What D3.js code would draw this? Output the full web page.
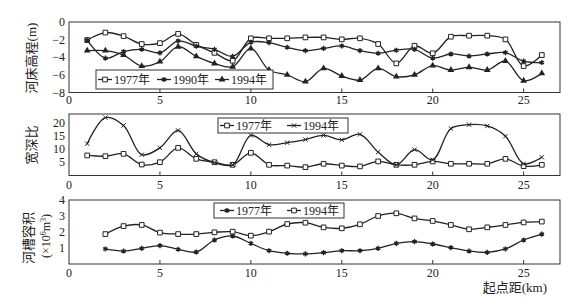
<!DOCTYPE html>
<html>
<head>
<meta charset="utf-8">
<script src="https://cdn.jsdelivr.net/npm/d3@7.9.0/dist/d3.min.js"></script>
<style>
  body { margin: 0; background: #fff; }
  text { font-family: "Liberation Serif", "DejaVu Serif", "Noto Sans CJK SC", serif; fill: #222; }
</style>
</head>
<body>
<svg id="chart" width="571" height="301"></svg>
<script>
// river bed elevation (m)
const x1 = d3.range(1, 27);
const bed1977 = [-2.05, -1.2, -1.6, -2.5, -2.4, -1.35, -2.6, -3.5, -4.4, -1.85, -1.85, -1.85, -1.75, -1.75, -1.97, -1.85, -2.5, -4.7, -2.7, -3.55, -1.67, -1.55, -1.55, -1.97, -5.0, -3.75];
const bed1990 = [-2.05, -4.1, -3.35, -3.1, -3.5, -2.15, -2.75, -3.1, -3.9, -2.3, -2.35, -2.87, -3.25, -3.0, -2.72, -3.25, -3.55, -3.2, -3.1, -4.1, -3.63, -3.86, -3.63, -3.48, -4.43, -4.6];
const bed1994 = [-3.25, -3.25, -3.75, -5.0, -4.5, -2.8, -3.9, -4.7, -5.07, -3.0, -5.45, -6.0, -6.77, -5.26, -6.13, -6.58, -5.26, -6.2, -6.0, -4.95, -5.45, -5.14, -5.45, -4.43, -6.66, -5.83];

// width / depth ratio
const ratio1977 = [7.7, 7.4, 8.3, 4.2, 5.1, 10.6, 6.4, 5.1, 4.1, 8.7, 4.1, 3.8, 3.2, 4.5, 3.8, 3.5, 5.4, 4.1, 4.1, 5.4, 4.5, 4.5, 4.5, 6.4, 3.6, 4.1];
const ratio1994 = [12.2, 22.2, 19.2, 8.0, 10.6, 17.3, 8.3, 4.9, 4.1, 15.4, 11.8, 12.6, 13.8, 15.4, 13.7, 15.8, 9.0, 4.1, 9.9, 6.0, 18.0, 19.5, 19.0, 15.1, 4.5, 7.0];

// channel volume (x10^6 m3), from 2 km on
const x3 = d3.range(2, 27);
const vol1977 = [0.94, 0.81, 0.98, 1.15, 0.92, 0.75, 1.5, 1.75, 1.29, 0.83, 0.67, 0.63, 0.71, 0.83, 0.83, 0.98, 1.29, 1.4, 1.25, 1.02, 0.81, 0.73, 0.94, 1.5, 1.87];
const vol1994 = [1.87, 2.37, 2.44, 1.96, 1.87, 1.87, 1.98, 2.02, 1.77, 2.02, 2.5, 2.58, 2.29, 2.23, 2.48, 3.0, 3.17, 2.85, 2.69, 2.44, 2.17, 2.29, 2.44, 2.6, 2.65];

const xTicks = [0, 5, 10, 15, 20, 25];

const svg = d3.select('#chart');
const x = d3.scaleLinear().domain([0, 27]).range([69, 560]);
const line = (xs, ys, y) => d3.line()
  .x((d, i) => x(xs[i]))
  .y((d) => y(d))
  .curve(d3.curveCatmullRom.alpha(0.5))(ys);

const marks = {
  square: { type: d3.symbolSquare, size: 22, fill: '#fff', stroke: '#222', sw: 1 },
  tri: { type: d3.symbolTriangle, size: 20, fill: '#222', stroke: 'none', sw: 0 },
  star: { type: d3.symbolAsterisk, size: 18, fill: 'none', stroke: '#222', sw: 1.4 },
  times: { type: d3.symbolTimes, size: 14, fill: 'none', stroke: '#222', sw: 1 }
};

function drawMark(g, m, px, py) {
  g.append('path')
    .attr('transform', `translate(${px},${py})`)
    .attr('d', d3.symbol().type(m.type).size(m.size)())
    .attr('fill', m.fill)
    .attr('stroke', m.stroke)
    .attr('stroke-width', m.sw);
}

const panels = [
  {
    top: 22, bottom: 92.5, domain: [-8, 0], ticks: [0, -2, -4, -6, -8],
    fmt: (d) => d === 0 ? '0' : '\u2212' + Math.abs(d),
    xs: x1, xLabelY: 104,
    series: [
      { name: '1977年', ys: bed1977, mark: 'square' },
      { name: '1990年', ys: bed1990, mark: 'star' },
      { name: '1994年', ys: bed1994, mark: 'tri' }
    ],
    legend: { x: 96, y: 70, w: 177, h: 19, items: [98, 157, 215] }
  },
  {
    top: 114, bottom: 175.5, domain: [0, 23.6], ticks: [5, 10, 15, 20],
    fmt: (d) => d, xs: x1, xLabelY: 189,
    series: [
      { name: '1977年', ys: ratio1977, mark: 'square' },
      { name: '1994年', ys: ratio1994, mark: 'times' }
    ],
    legend: { x: 218, y: 118, w: 130, h: 15, items: [220, 287] }
  },
  {
    top: 200, bottom: 264, domain: [0, 4], ticks: [1, 2, 3, 4],
    fmt: (d) => d, xs: x3, xLabelY: 277,
    series: [
      { name: '1977年', ys: vol1977, mark: 'star' },
      { name: '1994年', ys: vol1994, mark: 'square' }
    ],
    legend: { x: 214, y: 203, w: 130, h: 15, items: [220, 287] }
  }
];

panels.forEach((p) => {
  const y = d3.scaleLinear().domain(p.domain).range([p.bottom, p.top]);
  const g = svg.append('g');

  g.append('rect')
    .attr('x', x(0)).attr('y', p.top)
    .attr('width', 560 - x(0)).attr('height', p.bottom - p.top)
    .attr('fill', 'none').attr('stroke', '#333').attr('stroke-width', 1);

  // x ticks point inward
  g.selectAll('.xt').data(xTicks.filter((d) => d > 0)).join('line')
    .attr('x1', (d) => x(d)).attr('x2', (d) => x(d))
    .attr('y1', p.bottom).attr('y2', p.bottom - 4)
    .attr('stroke', '#333');
  g.selectAll('.xl').data(xTicks).join('text')
    .attr('x', (d) => x(d)).attr('y', p.xLabelY)
    .attr('text-anchor', 'middle').attr('font-size', 12)
    .text((d) => d);

  g.selectAll('.yl').data(p.ticks).join('text')
    .attr('x', 65).attr('y', (d) => y(d) + 4)
    .attr('text-anchor', 'end').attr('font-size', 12)
    .text(p.fmt);

  p.series.forEach((s) => {
    g.append('path')
      .attr('d', line(p.xs, s.ys, y))
      .attr('fill', 'none').attr('stroke', '#222').attr('stroke-width', 1.3);
    s.ys.forEach((v, i) => drawMark(g, marks[s.mark], x(p.xs[i]), y(v)));
  });

  const L = p.legend;
  g.append('rect')
    .attr('x', L.x).attr('y', L.y).attr('width', L.w).attr('height', L.h)
    .attr('fill', '#fff').attr('stroke', '#333').attr('stroke-width', 1);
  p.series.forEach((s, i) => {
    const lx = L.items[i], ly = L.y + L.h / 2;
    g.append('line')
      .attr('x1', lx).attr('x2', lx + 14).attr('y1', ly).attr('y2', ly)
      .attr('stroke', '#222').attr('stroke-width', 1.3);
    drawMark(g, marks[s.mark], lx + 7, ly);
    g.append('text')
      .attr('x', lx + 16).attr('y', ly + 4.5)
      .attr('font-size', 12)
      .text(s.name);
  });
});

// axis titles
const title = (t, cx, cy, size) => svg.append('text')
  .attr('transform', `translate(${cx},${cy}) rotate(-90)`)
  .attr('text-anchor', 'middle').attr('font-size', size)
  .text(t);
title('河床高程(m)', 36, 58, 13);
title('宽深比', 36, 145, 13);
title('河槽容积', 33, 238, 13);
svg.append('text')
  .attr('transform', 'translate(50,236) rotate(-90)')
  .attr('text-anchor', 'middle').attr('font-size', 12)
  .html('(×10<tspan baseline-shift="super" font-size="8">6</tspan>m<tspan baseline-shift="super" font-size="8">3</tspan>)');

svg.append('text')
  .attr('x', 547).attr('y', 292)
  .attr('text-anchor', 'end').attr('font-size', 13)
  .text('起点距(km)');
</script>
</body>
</html>
